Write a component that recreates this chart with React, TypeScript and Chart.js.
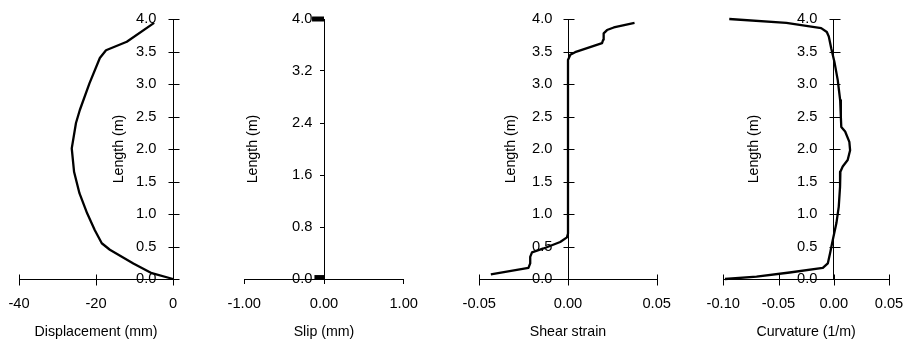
import React, { useEffect, useRef } from "react";
import { Chart, registerables } from "chart.js";

Chart.register(...registerables);

const FONT = "'Liberation Sans', Arial, Helvetica, sans-serif";
const TICK_SIZE = 14.7;
const TITLE_SIZE = 14.2;

// ---- Data ----
const yAxisTitle = "Length (m)";
const xAxisTitles = ["Displacement (mm)", "Slip (mm)", "Shear strain", "Curvature (1/m)"];

// Panel 1: displacement (mm) vs length (m)
const displacementMm = [-4.9, -12.0, -17.4, -19.0, -21.7, -24.2, -25.2, -26.3, -25.7, -24.3, -22.3, -20.3, -18.5, -16.4, -10.3, -5.5, 0];
const displacementLength = [3.94, 3.65, 3.52, 3.4, 3.01, 2.6, 2.4, 2.01, 1.65, 1.32, 1.01, 0.75, 0.55, 0.45, 0.24, 0.09, 0];

// Panel 2: slip (mm)
const slipTopMm = [-0.15, 0];
const slipTopLength = [4.0, 4.0];
const slipBottomMm = [-0.12, 0];
const slipBottomLength = [0.03, 0.03];

// Panel 3: shear strain
const shearStrain = [-0.0435, -0.0223, -0.0213, -0.0213, -0.0203, -0.0138, -0.0044, -0.0006, 0, 0, 0.0013, 0.004, 0.0192, 0.0198, 0.0201, 0.022, 0.0258, 0.0375];
const shearLength = [0.07, 0.17, 0.24, 0.34, 0.41, 0.47, 0.57, 0.64, 0.7, 3.37, 3.45, 3.49, 3.63, 3.68, 3.78, 3.83, 3.87, 3.94];

// Panel 4: curvature (1/m)
const curvature = [-0.0946, -0.0429, -0.0114, -0.0063, -0.0045, -0.0023, 0.0006, 0.0036, 0.0058, 0.0064, 0.0068, 0.0103, 0.0141, 0.0148, 0.0126, 0.0081, 0.006, 0.0057, 0.0045, 0.0024, -0.0009, -0.0033, -0.0054, -0.0099, -0.0399, -0.0699, -0.0985];
const curvatureLength = [4.0, 3.94, 3.86, 3.8, 3.73, 3.55, 3.34, 3.06, 2.75, 2.5, 2.34, 2.27, 2.11, 1.98, 1.83, 1.73, 1.65, 1.42, 1.11, 0.86, 0.6, 0.4, 0.24, 0.17, 0.1, 0.035, 0.0];

// Axis tick settings
const xRanges = [
  { min: -40, max: 0, step: 20, dec: 0 },
  { min: -1, max: 1, step: 1, dec: 2 },
  { min: -0.05, max: 0.05, step: 0.05, dec: 2 },
  { min: -0.1, max: 0.05, step: 0.05, dec: 2 },
];
const yMax = 4;
const yStepsPerPanel = [0.5, 0.8, 0.5, 0.5];

function pts(xs: number[], ys: number[]) {
  return xs.map((x, i) => ({ x, y: ys[i] }));
}

function line(data: { x: number; y: number }[], color = "#000", width = 2.3) {
  return {
    data,
    borderColor: color,
    backgroundColor: color,
    borderWidth: width,
    pointRadius: 0,
    fill: false,
    tension: 0,
    clip: false as any,
    borderCapStyle: "butt" as const,
    borderJoinStyle: "round" as const,
  };
}

const H = 343;
const CHART_TOP = 19;
const X_AXIS_HEIGHT = 64;

type Spec = {
  left: number;
  width: number;
  padL: number;
  padR: number;
  cross: boolean;
  titleOffset: number;
  labelGap: number;
  idx: number;
  datasets: any[];
};

const specs: Spec[] = [
  {
    idx: 0, left: -30, width: 260, padL: 49, padR: 57, cross: true, titleOffset: 54, labelGap: 17,
    datasets: [line(pts(displacementMm, displacementLength))],
  },
  {
    idx: 1, left: 190, width: 270, padL: 54.3, padR: 56.3, cross: false, titleOffset: 71, labelGap: 12,
    datasets: [
      line(pts(slipTopMm, slipTopLength), "#000", 5),
      line(pts(slipTopMm, slipTopLength), "#7070e0", 2),
      line(pts(slipBottomMm, slipBottomLength), "#000", 4),
    ],
  },
  {
    idx: 2, left: 420, width: 290, padL: 59.3, padR: 53.3, cross: true, titleOffset: 57, labelGap: 16,
    datasets: [line(pts(shearStrain, shearLength))],
  },
  {
    idx: 3, left: 670, width: 280, padL: 53.3, padR: 61, cross: true, titleOffset: 80, labelGap: 17,
    datasets: [line(pts(curvature, curvatureLength))],
  },
];

function makeConfig(spec: Spec): any {
  const xr = xRanges[spec.idx];
  const yStep = yStepsPerPanel[spec.idx];
  const decor = {
    id: "decor" + spec.idx,
    afterDraw(chart: any) {
      const ctx = chart.ctx as CanvasRenderingContext2D;
      const xs = chart.scales.x;
      const ys = chart.scales.y;
      const ax = Math.round(xs.getPixelForValue(0)) + 0.5;
      const bottom = Math.round(chart.chartArea.bottom) + 0.5;
      ctx.save();
      ctx.strokeStyle = "#000";
      ctx.lineWidth = 1;
      if (spec.cross) {
        ctx.beginPath();
        ys.ticks.forEach((t: any) => {
          const py = Math.round(ys.getPixelForValue(t.value)) + 0.5;
          ctx.moveTo(ax - 5, py);
          ctx.lineTo(ax + 6, py);
        });
        xs.ticks.forEach((t: any) => {
          const px = Math.round(xs.getPixelForValue(t.value)) + 0.5;
          ctx.moveTo(px, bottom - 5);
          ctx.lineTo(px, bottom + 6);
        });
        ctx.stroke();
      }
      // y tick labels
      ctx.fillStyle = "#000";
      ctx.font = `${TICK_SIZE}px ${FONT}`;
      ctx.textAlign = "right";
      ctx.textBaseline = "middle";
      ys.ticks.forEach((t: any) => {
        const py = ys.getPixelForValue(t.value);
        ctx.fillText(Number(t.value).toFixed(1), ax - spec.labelGap, py);
      });
      // y title
      ctx.font = `${TITLE_SIZE}px ${FONT}`;
      ctx.translate(ax - spec.titleOffset, (chart.chartArea.top + chart.chartArea.bottom) / 2);
      ctx.rotate(-Math.PI / 2);
      ctx.textAlign = "center";
      ctx.fillText(yAxisTitle, 0, 0);
      ctx.restore();
    },
  };

  return {
    type: "line",
    data: { datasets: spec.datasets },
    options: {
      animation: false,
      responsive: false,
      devicePixelRatio: 1,
      layout: { padding: { left: spec.padL, right: spec.padR, top: CHART_TOP, bottom: 0 } },
      plugins: { legend: { display: false }, tooltip: { enabled: false } },
      scales: {
        x: {
          type: "linear",
          position: "bottom",
          min: xr.min,
          max: xr.max,
          afterFit: (s: any) => {
            s.height = X_AXIS_HEIGHT;
          },
          ticks: {
            stepSize: xr.step,
            autoSkip: false,
            maxRotation: 0,
            color: "#000",
            font: { family: FONT, size: TICK_SIZE },
            padding: spec.cross ? 16 : 11,
            callback: (v: any) => Number(v).toFixed(xr.dec),
          },
          grid: {
            display: true,
            drawOnChartArea: false,
            drawTicks: !spec.cross,
            tickLength: 5,
            color: "#000",
            lineWidth: 1,
          },
          border: { display: true, color: "#000", width: 1 },
          title: {
            display: true,
            text: xAxisTitles[spec.idx],
            color: "#000",
            font: { family: FONT, size: TITLE_SIZE },
            padding: { top: 0, bottom: 2 },
          },
        },
        y: {
          type: "linear",
          position: { x: 0 },
          min: 0,
          max: yMax,
          ticks: {
            stepSize: yStep,
            display: false,
          },
          grid: {
            display: true,
            drawOnChartArea: false,
            drawTicks: !spec.cross,
            tickLength: 4,
            color: "#000",
            lineWidth: 1,
          },
          border: { display: true, color: "#000", width: 1 },
        },
      },
    },
    plugins: [decor],
  };
}

function Panel({ spec }: { spec: Spec }) {
  const ref = useRef<HTMLCanvasElement>(null);
  useEffect(() => {
    const chart = new Chart(ref.current as HTMLCanvasElement, makeConfig(spec));
    return () => chart.destroy();
  }, [spec]);
  return (
    <canvas
      ref={ref}
      width={spec.width}
      height={H}
      style={{ position: "absolute", left: spec.left, top: 0, width: spec.width, height: H }}
    />
  );
}

export default function App() {
  return (
    <div style={{ position: "absolute", left: 0, top: 0, width: 907, height: H, background: "#fff", overflow: "hidden" }}>
      {specs.map((s) => (
        <Panel key={s.idx} spec={s} />
      ))}
    </div>
  );
}
